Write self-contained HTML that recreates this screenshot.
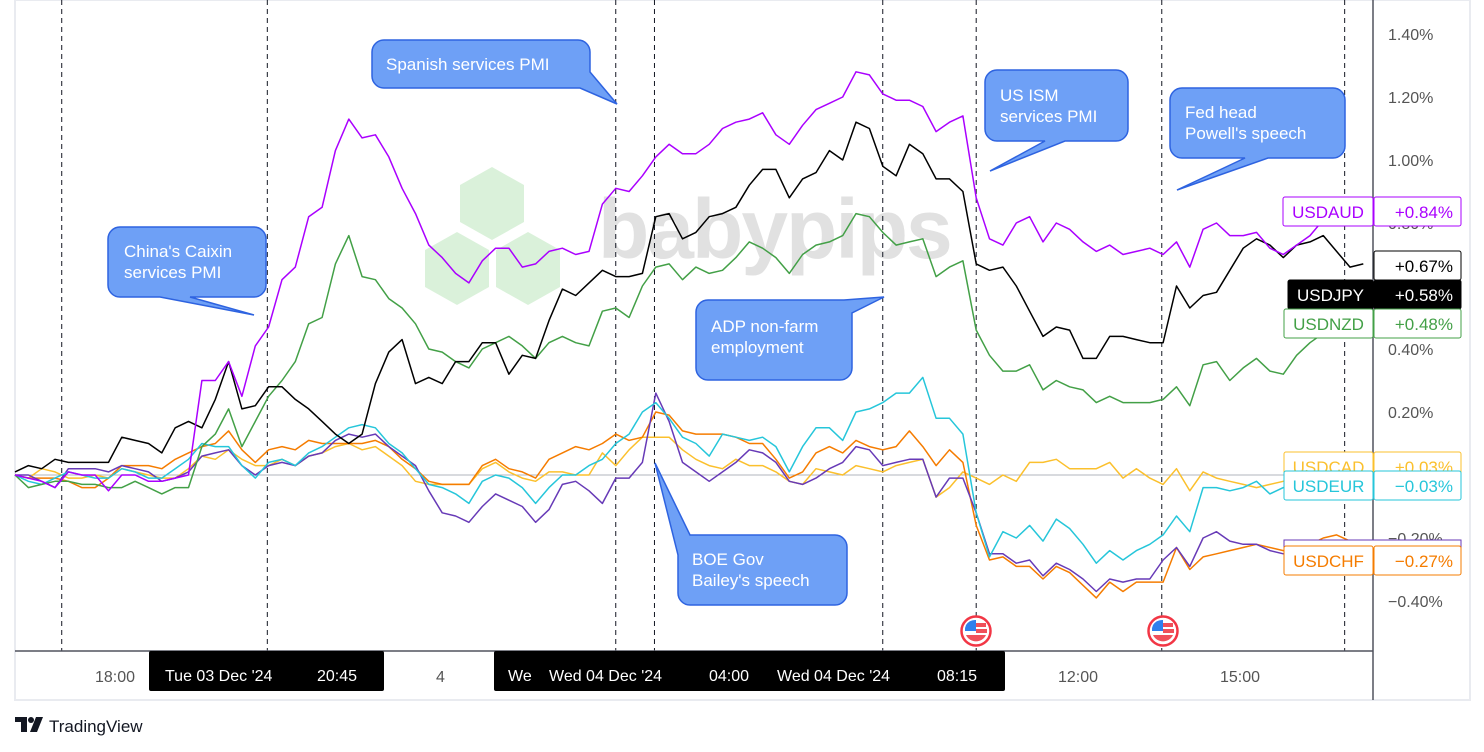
<!DOCTYPE html>
<html><head><meta charset="utf-8">
<style>
html,body{margin:0;padding:0;background:#fff;width:1484px;height:752px;overflow:hidden;font-family:"Liberation Sans",sans-serif}
svg text{font-family:"Liberation Sans",sans-serif}
</style></head>
<body>
<svg id="chart" width="1484" height="752" viewBox="0 0 1484 752" xmlns="http://www.w3.org/2000/svg">
  <rect x="15" y="0" width="1455" height="700" fill="#fff" stroke="#e9ebf0" stroke-width="2"/>
  <g id="watermark" opacity="0.85">
    <polygon points="460,185 492,167 524,185 524,222 492,240 460,222" fill="#d4efd4"/>
    <polygon points="425,250 457,232 489,250 489,287 457,305 425,287" fill="#d4efd4"/>
    <polygon points="496,250 528,232 560,250 560,287 528,305 496,287" fill="#d4efd4"/>
    <text x="598" y="258" font-size="84" font-weight="bold" fill="#dcdcdc" letter-spacing="-2">babypips</text>
  </g>
  <g id="grid"></g>
  <line x1="15" y1="475" x2="1373" y2="475" stroke="#b2b5be" stroke-width="1"/>
  <g id="series"></g>
  <line x1="15" y1="651" x2="1373" y2="651" stroke="#50535e" stroke-width="1.5"/>
  <line x1="1373" y1="0" x2="1373" y2="700" stroke="#50535e" stroke-width="1.5"/>
  <g id="yticks"></g>

  <g>
    <path d="M120,227 H254 a12,12 0 0 1 12,12 V285 a12,12 0 0 1 -12,12 H190 L254,315 L160,297 H120 a12,12 0 0 1 -12,-12 V239 a12,12 0 0 1 12,-12 Z" fill="#6ea0f6" stroke="#2e63e0" stroke-width="1.5"/>
    <text x="124" y="257" font-size="17" fill="#fff">China's Caixin</text>
    <text x="124" y="278" font-size="17" fill="#fff">services PMI</text>
  </g>
  <g>
    <path d="M384,40 H578 a12,12 0 0 1 12,12 V72 L617,104 L580,88 H384 a12,12 0 0 1 -12,-12 V52 a12,12 0 0 1 12,-12 Z" fill="#6ea0f6" stroke="#2e63e0" stroke-width="1.5"/>
    <text x="386" y="70" font-size="17" fill="#fff">Spanish services PMI</text>
  </g>
  <g>
    <path d="M997,70 H1116 a12,12 0 0 1 12,12 V129 a12,12 0 0 1 -12,12 H1065 L990,171 L1045,141 H997 a12,12 0 0 1 -12,-12 V82 a12,12 0 0 1 12,-12 Z" fill="#6ea0f6" stroke="#2e63e0" stroke-width="1.5"/>
    <text x="1000" y="101" font-size="17" fill="#fff">US ISM</text>
    <text x="1000" y="122" font-size="17" fill="#fff">services PMI</text>
  </g>
  <g>
    <path d="M1182,88 H1333 a12,12 0 0 1 12,12 V146 a12,12 0 0 1 -12,12 H1268 L1177,190 L1245,158 H1182 a12,12 0 0 1 -12,-12 V100 a12,12 0 0 1 12,-12 Z" fill="#6ea0f6" stroke="#2e63e0" stroke-width="1.5"/>
    <text x="1185" y="118" font-size="17" fill="#fff">Fed head</text>
    <text x="1185" y="139" font-size="17" fill="#fff">Powell's speech</text>
  </g>
  <g>
    <path d="M708,300 H844 L884,297 L852,313 V368 a12,12 0 0 1 -12,12 H708 a12,12 0 0 1 -12,-12 V312 a12,12 0 0 1 12,-12 Z" fill="#6ea0f6" stroke="#2e63e0" stroke-width="1.5"/>
    <text x="711" y="332" font-size="17" fill="#fff">ADP non-farm</text>
    <text x="711" y="353" font-size="17" fill="#fff">employment</text>
  </g>
  <g>
    <path d="M690,535 H835 a12,12 0 0 1 12,12 V593 a12,12 0 0 1 -12,12 H690 a12,12 0 0 1 -12,-12 V555 L655,463 L690,535 Z" fill="#6ea0f6" stroke="#2e63e0" stroke-width="1.5"/>
    <text x="692" y="565" font-size="17" fill="#fff">BOE Gov</text>
    <text x="692" y="586" font-size="17" fill="#fff">Bailey's speech</text>
  </g>

  <g transform="translate(976,631)">
    <circle r="14.5" fill="#fff" stroke="#f23645" stroke-width="2.5"/>
    <path d="M-10,-6 A11,11 0 0 1 0,-11 V0 H-11 A11,11 0 0 1 -10,-6Z" fill="#2f80ed"/>
    <rect x="0" y="-8" width="10" height="4" fill="#f0505a"/><rect x="0" y="-2" width="11" height="4" fill="#f0505a"/>
    <path d="M-10,4 H10 A11,11 0 0 1 -10,4Z" fill="#f0505a"/>
  </g>
  <g transform="translate(1163,631)">
    <circle r="14.5" fill="#fff" stroke="#f23645" stroke-width="2.5"/>
    <path d="M-10,-6 A11,11 0 0 1 0,-11 V0 H-11 A11,11 0 0 1 -10,-6Z" fill="#2f80ed"/>
    <rect x="0" y="-8" width="10" height="4" fill="#f0505a"/><rect x="0" y="-2" width="11" height="4" fill="#f0505a"/>
    <path d="M-10,4 H10 A11,11 0 0 1 -10,4Z" fill="#f0505a"/>
  </g>

  <g font-size="16" fill="#333">
    <text x="95" y="682" fill="#555">18:00</text>
    <rect x="149" y="651" width="235" height="40" rx="2" fill="#000"/>
    <text x="165" y="681" fill="#fff">Tue 03 Dec '24</text><text x="317" y="681" fill="#fff">20:45</text>
    <text x="436" y="682" fill="#555">4</text>
    <rect x="494" y="651" width="511" height="40" rx="2" fill="#000"/>
    <text x="508" y="681" fill="#fff">We</text>
    <text x="549" y="681" fill="#fff">Wed 04 Dec '24</text><text x="709" y="681" fill="#fff">04:00</text>
    <text x="777" y="681" fill="#fff">Wed 04 Dec '24</text><text x="937" y="681" fill="#fff">08:15</text>
    <text x="1058" y="682" fill="#555">12:00</text>
    <text x="1220" y="682" fill="#555">15:00</text>
  </g>
  <g id="labels"></g>
  <g>
    <path d="M15,717 H27 V732 H21 V722 H15 Z" fill="#131722"/><circle cx="31" cy="720" r="3" fill="#131722"/>
    <path d="M36,717 H43 L37,732 H30 Z" fill="#131722"/>
    <text x="49" y="732" font-size="17" fill="#131722">TradingView</text>
  </g>
</svg>
<script>
const categories = Array.from({length:102},(_,i)=>i);
const usdaud = [0,-0.01,-0.02,-0.04,0.01,0,0,-0.05,0,0,-0.02,-0.02,-0.01,0,0.30,0.30,0.36,0.25,0.41,0.47,0.62,0.66,0.82,0.85,1.03,1.13,1.07,1.08,1.01,0.91,0.83,0.73,0.69,0.64,0.61,
0.68,0.72,0.72,0.66,0.67,0.71,0.72,0.70,0.71,0.86,0.91,0.90,0.95,1.01,1.05,1.02,1.02,1.05,1.10,1.12,1.13,1.15,1.08,1.05,1.11,1.16,1.18,1.20,1.28,1.27,1.21,1.19,1.19,1.17,
1.09,1.12,1.14,0.88,0.75,0.73,0.80,0.82,0.74,0.80,0.78,0.74,0.71,0.73,0.70,0.71,0.72,0.70,0.74,0.66,0.78,0.80,0.76,0.76,0.77,0.72,0.70,0.73,0.76,0.81,0.83,0.84,0.84];
const usdjpy = [0.01,0.03,0.02,0.05,0.04,0.04,0.04,0.04,0.12,0.11,0.10,0.07,0.15,0.17,0.15,0.24,0.36,0.21,0.22,0.28,0.28,0.24,0.21,0.17,0.13,0.10,0.13,0.29,0.39,0.43,0.29,0.31,0.29,0.36,0.36,
0.42,0.42,0.32,0.38,0.37,0.49,0.59,0.57,0.61,0.65,0.63,0.63,0.64,0.82,0.83,0.75,0.77,0.82,0.83,0.85,0.92,0.97,0.97,0.88,0.94,0.96,1.03,1.00,1.12,1.10,0.98,0.95,1.05,1.02,
0.94,0.94,0.90,0.67,0.65,0.66,0.60,0.52,0.44,0.47,0.46,0.37,0.37,0.44,0.44,0.43,0.42,0.42,0.60,0.53,0.57,0.58,0.65,0.72,0.75,0.73,0.69,0.73,0.74,0.76,0.71,0.66,0.67];
const usdnzd = [0,-0.04,-0.03,-0.02,-0.02,-0.03,-0.03,-0.04,-0.04,-0.02,-0.04,-0.06,-0.04,-0.04,0.09,0.13,0.21,0.09,0.17,0.25,0.30,0.36,0.48,0.50,0.67,0.76,0.63,0.62,0.56,0.53,0.48,0.40,0.39,0.36,0.34,
0.40,0.42,0.44,0.41,0.37,0.42,0.44,0.42,0.41,0.52,0.53,0.50,0.60,0.66,0.67,0.62,0.66,0.64,0.65,0.69,0.74,0.72,0.69,0.64,0.70,0.73,0.74,0.76,0.83,0.82,0.77,0.73,0.74,0.75,
0.63,0.66,0.68,0.46,0.38,0.33,0.33,0.35,0.27,0.30,0.28,0.27,0.23,0.25,0.23,0.23,0.23,0.24,0.28,0.22,0.35,0.36,0.30,0.34,0.37,0.33,0.32,0.38,0.42,0.45,0.47,0.48,0.48];
const usdeur = [0,-0.02,-0.03,-0.01,0.01,0,-0.01,-0.01,0.02,0.01,-0.01,-0.01,0.02,0.05,0.10,0.09,0.09,0.03,-0.01,0.04,0.05,0.03,0.07,0.09,0.12,0.15,0.16,0.15,0.10,0.07,0.02,-0.03,-0.04,-0.06,-0.09,
-0.02,0,-0.01,-0.04,-0.09,-0.04,0,0,0.03,0.05,0.10,0.13,0.20,0.23,0.18,0.12,0.10,0.06,0.13,0.12,0.11,0.12,0.09,0.01,0.09,0.15,0.15,0.11,0.20,0.21,0.23,0.26,0.26,0.31,
0.18,0.18,0.13,-0.12,-0.26,-0.18,-0.20,-0.16,-0.21,-0.14,-0.17,-0.22,-0.28,-0.24,-0.27,-0.24,-0.22,-0.19,-0.13,-0.18,-0.04,-0.04,-0.05,-0.04,-0.02,-0.06,-0.04,-0.03,-0.02,-0.02,-0.03,-0.03,-0.03];
const usdchf = [0,-0.01,-0.01,-0.01,-0.02,-0.04,-0.04,-0.01,0.03,0.03,0.03,0.02,0.05,0.07,0.09,0.10,0.14,0.08,0.04,0.08,0.09,0.08,0.11,0.10,0.10,0.10,0.10,0.11,0.09,0.05,0.02,-0.02,-0.03,-0.03,-0.03,
0.03,0.05,0.02,0.01,-0.01,0.05,0.07,0.09,0.08,0.10,0.13,0.11,0.12,0.20,0.19,0.14,0.13,0.13,0.13,0.12,0.10,0.10,0.05,-0.01,0.01,0.07,0.09,0.07,0.11,0.09,0.08,0.09,0.14,0.09,
0.03,0.08,0.04,-0.16,-0.27,-0.26,-0.29,-0.29,-0.33,-0.29,-0.31,-0.35,-0.39,-0.34,-0.37,-0.34,-0.34,-0.34,-0.23,-0.30,-0.26,-0.25,-0.24,-0.23,-0.22,-0.23,-0.24,-0.24,-0.22,-0.20,-0.19,-0.21,-0.24];
const usdcad = [0,-0.01,0.02,0.01,-0.01,-0.01,0,-0.01,0.02,0.01,0,-0.01,-0.01,0.02,0.06,0.05,0.08,0.05,0.03,0.03,0.05,0.03,0.06,0.07,0.09,0.10,0.08,0.09,0.06,0.03,-0.02,-0.03,-0.03,-0.03,-0.03,
0.02,0.04,0.01,-0.01,-0.02,0.01,0.01,0,0,0.07,0.03,0.08,0.12,0.12,0.12,0.08,0.05,0.03,0.02,0.05,0.03,0.03,0.01,-0.02,-0.03,0.02,0.01,0,0.03,0.02,0.01,0.03,0.04,0.05,
-0.07,-0.04,0.01,-0.01,-0.03,0,-0.02,0.04,0.04,0.05,0.02,0.02,0.02,0.04,-0.01,0.02,-0.01,-0.03,0.02,-0.05,0.01,-0.01,-0.02,-0.03,-0.04,-0.03,-0.02,-0.02,-0.02,-0.01,0,0.01,0.02];
const usdgbp = [0,0,-0.02,-0.04,0.02,0.02,0.02,0.01,0.03,0.02,0.01,-0.02,-0.01,0.01,0.06,0.07,0.08,0.03,0,0.03,0.04,0.03,0.06,0.07,0.11,0.13,0.12,0.13,0.09,0.06,0.03,-0.05,-0.12,-0.13,-0.15,
-0.10,-0.06,-0.08,-0.10,-0.15,-0.11,-0.03,-0.02,-0.05,-0.09,-0.01,-0.01,0.04,0.26,0.17,0.04,0.01,-0.02,0.01,0.04,0.08,0.07,0.04,-0.02,-0.03,-0.01,0.02,0.04,0.09,0.08,0.03,0.04,0.05,0.05,
-0.07,-0.01,-0.01,-0.12,-0.25,-0.25,-0.28,-0.27,-0.32,-0.28,-0.30,-0.33,-0.37,-0.33,-0.34,-0.33,-0.33,-0.27,-0.23,-0.29,-0.20,-0.18,-0.21,-0.22,-0.22,-0.24,-0.25,-0.24,-0.23,-0.23,-0.22,-0.22,-0.22];
const yTicks = [1.4,1.2,1.0,0.8,0.4,0.2,-0.2,-0.4];
const eventBars = [3.5,18.9,45,47.9,65,72,85.9,99.6];

const NS='http://www.w3.org/2000/svg';
const xS = i => 15 + i*13.35;
const yS = v => 475 - v*315;
function mk(tag, attrs, parent){const e=document.createElementNS(NS,tag);for(const k in attrs)e.setAttribute(k,attrs[k]);parent.appendChild(e);return e;}

const grid=document.getElementById('grid');
eventBars.forEach(b=>{
  const l=mk('line',{x1:xS(b),x2:xS(b),y1:0,y2:651,stroke:'#131722','stroke-width':1,'stroke-dasharray':'5,4'},grid);
  
  
});

const yt=document.getElementById('yticks');
yTicks.forEach(v=>{
  const t=mk('text',{x:1388,y:yS(v)+6,'font-size':16,fill:'#555'},yt);
  t.textContent=(v<0?'\u2212':'')+Math.abs(v).toFixed(2)+'%';
  
  
});

const sg=document.getElementById('series');
const defs=[[usdcad,'#fbc02d','usdcad-line'],[usdchf,'#f57c00','usdchf-line'],[usdgbp,'#673ab7','usdgbp-line'],[usdeur,'#26c6da','usdeur-line'],[usdnzd,'#43a047','usdnzd-line'],[usdjpy,'#000000','usdjpy-line'],[usdaud,'#aa00ff','usdaud-line']];
defs.forEach(([arr,c,n])=>{
  const p=mk('polyline',{points:arr.map((v,i)=>xS(categories[i]).toFixed(1)+','+yS(v).toFixed(1)).join(' '),fill:'none',stroke:c,'stroke-width':1.5,'stroke-linejoin':'round'},sg);
  
  
});

const lg=document.getElementById('labels');
function label(name,val,color,y,fill,nameX){
  const g=mk('g',{},lg);
  
  
  if(name){
    mk('rect',{x:nameX,y:y,width:1373-nameX,height:29,rx:2,fill:fill?color:'#fff',stroke:color,'stroke-width':1},g);
    const t=mk('text',{x:nameX+(1373-nameX)/2,y:y+21,'font-size':17,'text-anchor':'middle',fill:fill?'#fff':color},g);t.textContent=name;
  }
  mk('rect',{x:1374,y:y,width:87,height:29,rx:2,fill:fill?color:'#fff',stroke:color,'stroke-width':1},g);
  const v=mk('text',{x:1453,y:y+21,'font-size':17,'text-anchor':'end',fill:fill?'#fff':color},g);v.textContent=val;
}
label('USDAUD','+0.84%','#aa00ff',197,false,1283);
label(null,'+0.67%','#000',251,false,1283);
label('USDJPY','+0.58%','#000',280,true,1288);
label('USDNZD','+0.48%','#43a047',309,false,1284);
label('USDCAD','+0.03%','#fbc02d',452,false,1284);
label('USDEUR','\u22120.03%','#26c6da',471,false,1284);
mk('rect',{x:1284,y:540,width:177,height:12,fill:'#fff',stroke:'#673ab7'},lg);
label('USDCHF','\u22120.27%','#f57c00',546,false,1284);
</script>
</body></html>
